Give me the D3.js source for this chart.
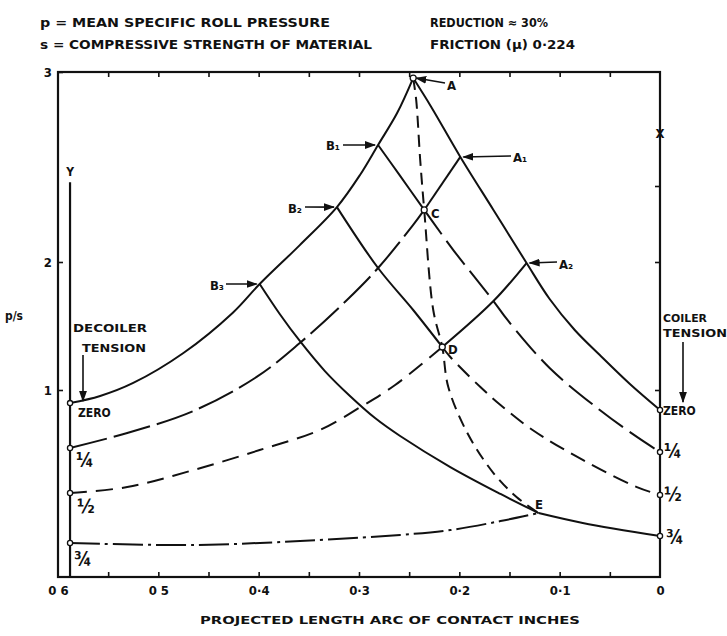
<!DOCTYPE html>
<html><head><meta charset="utf-8">
<script src="https://cdn.jsdelivr.net/npm/d3@7"></script>
<style>
body{margin:0;background:#fff;}
svg text{font-family:"DejaVu Sans Condensed","DejaVu Sans",sans-serif;font-weight:bold;fill:#111;}
</style></head><body>
<svg id="c" width="727" height="636"></svg>
<script>
// ---------- data ----------
const xTicks = [0.6, 0.5, 0.4, 0.3, 0.2, 0.1, 0];
const xTickLabels = ["0 6", "0 5", "0·4", "0·3", "0·2", "0·1", "0"];
const xMinorTicks = [0.55, 0.5, 0.45, 0.4, 0.35, 0.3, 0.25, 0.2, 0.15, 0.1, 0.05];
const yTicks = [1, 2, 3];
const yTickLabels = ["1", "2", "3"];
const tensionLabels = ["ZERO", "¼", "½", "¾"];

// entry (decoiler-tension) curves, [inches, p/s]
const entryZero = [[0.588,0.930],[0.558,0.968],[0.525,1.055],[0.475,1.289],[0.426,1.602],[0.399,1.828],[0.359,2.089],[0.322,2.289],[0.299,2.458],[0.281,2.616],[0.262,2.784],[0.246,2.968]];
const entryQuarterDashed = [[0.588,0.690],[0.531,0.770],[0.465,0.888],[0.402,1.102],[0.359,1.367],[0.312,1.703],[0.281,1.953],[0.246,2.195],[0.235,2.274]];
const entryQuarterSolid = [[0.235,2.274],[0.199,2.553]];
const entryHalfDashed = [[0.588,0.449],[0.531,0.481],[0.465,0.572],[0.399,0.679],[0.339,0.786],[0.300,0.904],[0.264,1.039],[0.217,1.336]];
const entryHalfSolid = [[0.217,1.336],[0.166,1.695],[0.133,1.992]];
const entryThreeQuarter = [[0.588,0.182],[0.465,0.171],[0.339,0.198],[0.259,0.225],[0.209,0.251],[0.159,0.299],[0.121,0.342]];

// exit (coiler-tension) curves
const exitA = [[0.246,2.968],[0.228,2.816],[0.199,2.553],[0.166,2.274],[0.133,1.992],[0.110,1.711],[0.085,1.469],[0.060,1.273],[0.030,1.047],[0,0.893]];
const exitB1Solid = [[0.281,2.616],[0.259,2.453],[0.235,2.274]];
const exitB1Dashed = [[0.235,2.274],[0.206,2.063],[0.166,1.695],[0.152,1.547],[0.110,1.172],[0.060,0.893],[0.023,0.749],[0,0.668]];
const exitB2Solid = [[0.322,2.289],[0.281,1.953],[0.246,1.625],[0.217,1.336]];
const exitB2Dashed = [[0.217,1.336],[0.209,1.258],[0.179,1.023],[0.159,0.920],[0.127,0.786],[0.077,0.626],[0.023,0.481],[0,0.439]];
const exitB3 = [[0.399,1.828],[0.379,1.594],[0.359,1.383],[0.334,1.148],[0.309,0.968],[0.284,0.850],[0.259,0.754],[0.209,0.588],[0.159,0.444],[0.121,0.342]];
const exitE = [[0.121,0.342],[0.077,0.289],[0,0.219]];

// locus of neutral points A-C-D-E
const neutralLocus = [[0.246,2.968],[0.243,2.853],[0.239,2.537],[0.235,2.274],[0.226,1.625],[0.217,1.336],[0.211,1.023],[0.192,0.770],[0.166,0.556],[0.143,0.428],[0.121,0.342]];

// named points
const pointNames = ["A","B₁","B₂","B₃","A₁","A₂","C","D","E"];
const pointX = [0.246,0.281,0.322,0.399,0.199,0.133,0.235,0.217,0.121];
const pointY = [2.968,2.616,2.289,1.828,2.553,1.992,2.274,1.336,0.342];

// tension end values
const entryStartX = 0.588;
const entryStartY = [0.930, 0.690, 0.449, 0.182];
const exitEndX = 0;
const exitEndY = [0.893, 0.668, 0.439, 0.219];
const yLineTop = 2.42;
const xMarkY = 2.68;

// ---------- drawing ----------
const svg = d3.select("#c");
const x = d3.scaleLinear().domain([0.6, 0]).range([58, 660]);
const y = d3.scaleLinear().domain([0, 1, 2, 3]).range([577, 390, 262, 72]);
const ink = "#111";

svg.append("defs").append("marker")
  .attr("id","arr").attr("viewBox","0 0 10 10").attr("refX",9).attr("refY",5)
  .attr("markerWidth",7).attr("markerHeight",7).attr("orient","auto")
  .append("path").attr("d","M0,1.5L10,5L0,8.5Z").attr("fill",ink);

// header
const hdr = [
  {t:"p = MEAN SPECIFIC ROLL PRESSURE", x:40, y:27, w:290},
  {t:"s = COMPRESSIVE STRENGTH OF MATERIAL", x:40, y:49, w:332},
  {t:"REDUCTION ≈ 30%", x:430, y:27, w:118},
  {t:"FRICTION (μ) 0·224", x:430, y:49, w:145}
];
svg.selectAll("text.hdr").data(hdr).join("text").attr("class","hdr")
  .attr("x",d=>d.x).attr("y",d=>d.y).attr("font-size",12)
  .attr("textLength",d=>d.w).attr("lengthAdjust","spacingAndGlyphs").text(d=>d.t);

// frame
svg.append("rect").attr("x",x(0.6)).attr("y",y(3)).attr("width",x(0)-x(0.6)).attr("height",y(0)-y(3))
  .attr("fill","none").attr("stroke",ink).attr("stroke-width",2.2);

// axes
function clean(g){ g.select(".domain").remove(); g.selectAll("line").attr("stroke",ink).attr("stroke-width",1.6); g.selectAll("text").attr("fill",ink).attr("font-size",13).attr("font-family","DejaVu Sans Condensed, DejaVu Sans, sans-serif").attr("font-weight","bold"); }
svg.append("g").attr("transform",`translate(0,${y(0)})`)
  .call(d3.axisBottom(x).tickValues(xMinorTicks).tickSize(-5).tickFormat("")).call(clean);
svg.append("g").attr("transform",`translate(0,${y(0)})`)
  .call(d3.axisBottom(x).tickValues(xTicks).tickSize(0).tickPadding(9).tickFormat((d,i)=>xTickLabels[i])).call(clean);
svg.append("g").attr("transform",`translate(0,${y(3)})`)
  .call(d3.axisTop(x).tickValues(xMinorTicks).tickSize(-5).tickFormat("")).call(clean);
svg.append("g").attr("transform",`translate(${x(0.6)},0)`)
  .call(d3.axisLeft(y).tickValues(yTicks).tickSize(-5).tickPadding(6).tickFormat((d,i)=>yTickLabels[i])).call(clean);
svg.append("g").attr("transform",`translate(${x(0)},0)`)
  .call(d3.axisRight(y).tickValues([1,2,2.4]).tickSize(-5).tickFormat("")).call(clean);

// axis titles
svg.append("text").attr("x",390).attr("y",624).attr("text-anchor","middle").attr("font-size",11)
  .attr("textLength",380).attr("lengthAdjust","spacingAndGlyphs").text("PROJECTED LENGTH ARC OF CONTACT INCHES");
svg.append("text").attr("x",14).attr("y",320).attr("text-anchor","middle").attr("font-size",12)
  .attr("textLength",18).attr("lengthAdjust","spacingAndGlyphs").text("p/s");

// Y line and X mark
svg.append("line").attr("x1",x(entryStartX)).attr("x2",x(entryStartX)).attr("y1",y(yLineTop)).attr("y2",y(0))
  .attr("stroke",ink).attr("stroke-width",2.2);
svg.append("text").attr("x",x(entryStartX)).attr("y",y(yLineTop)-6).attr("text-anchor","middle").attr("font-size",12).text("Y");
svg.append("text").attr("x",x(0)).attr("y",y(xMarkY)+5).attr("text-anchor","middle").attr("font-size",13).text("X");

// curves
const line = d3.line().x(d=>x(d[0])).y(d=>y(d[1])).curve(d3.curveCatmullRom.alpha(0.5));
const curves = [
  {d:entryZero, dash:null},
  {d:entryQuarterDashed, dash:"38,7"},
  {d:entryQuarterSolid, dash:null},
  {d:entryHalfDashed, dash:"17,9"},
  {d:entryHalfSolid, dash:null},
  {d:entryThreeQuarter, dash:"30,5,3,5"},
  {d:exitA, dash:null},
  {d:exitB1Solid, dash:null},
  {d:exitB1Dashed, dash:"30,8"},
  {d:exitB2Solid, dash:null},
  {d:exitB2Dashed, dash:"16,8"},
  {d:exitB3, dash:null},
  {d:exitE, dash:null},
  {d:neutralLocus, dash:"12,7"}
];
svg.selectAll("path.curve").data(curves).join("path").attr("class","curve")
  .attr("d",c=>line(c.d)).attr("fill","none").attr("stroke",ink).attr("stroke-width",2)
  .attr("stroke-dasharray",c=>c.dash);

// end circles
svg.selectAll("circle.ls").data(entryStartY).join("circle").attr("class","ls")
  .attr("cx",x(entryStartX)).attr("cy",d=>y(d)).attr("r",2.6).attr("fill","#fff").attr("stroke",ink).attr("stroke-width",1.3);
svg.selectAll("circle.rs").data(exitEndY).join("circle").attr("class","rs")
  .attr("cx",x(exitEndX)).attr("cy",d=>y(d)).attr("r",2.6).attr("fill","#fff").attr("stroke",ink).attr("stroke-width",1.3);

// tension labels
const leftOff = [{dx:8,dy:14,fs:12},{dx:6,dy:19,fs:19},{dx:7,dy:20,fs:19},{dx:4,dy:23,fs:19}];
svg.selectAll("text.lt").data(tensionLabels).join("text").attr("class","lt")
  .attr("x",(d,i)=>x(entryStartX)+leftOff[i].dx).attr("y",(d,i)=>y(entryStartY[i])+leftOff[i].dy)
  .attr("font-size",(d,i)=>leftOff[i].fs).text(d=>d);
const rightOff = [{dx:3,dy:5,fs:12},{dx:4,dy:6,fs:19},{dx:4,dy:6,fs:19},{dx:6,dy:8,fs:19}];
svg.selectAll("text.rt").data(tensionLabels).join("text").attr("class","rt")
  .attr("x",(d,i)=>x(exitEndX)+rightOff[i].dx).attr("y",(d,i)=>y(exitEndY[i])+rightOff[i].dy)
  .attr("font-size",(d,i)=>rightOff[i].fs).text(d=>d);

// decoiler / coiler tension notes
svg.append("text").attr("x",73).attr("y",332).attr("font-size",11).attr("textLength",74).attr("lengthAdjust","spacingAndGlyphs").text("DECOILER");
svg.append("text").attr("x",82).attr("y",352).attr("font-size",11).attr("textLength",64).attr("lengthAdjust","spacingAndGlyphs").text("TENSION");
svg.append("line").attr("x1",83).attr("x2",83).attr("y1",355).attr("y2",y(entryStartY[0])-2)
  .attr("stroke",ink).attr("stroke-width",1.6).attr("marker-end","url(#arr)");
svg.append("text").attr("x",663).attr("y",322).attr("font-size",11).attr("textLength",44).attr("lengthAdjust","spacingAndGlyphs").text("COILER");
svg.append("text").attr("x",663).attr("y",337).attr("font-size",11).attr("textLength",64).attr("lengthAdjust","spacingAndGlyphs").text("TENSION");
svg.append("line").attr("x1",683).attr("x2",683).attr("y1",342).attr("y2",y(exitEndY[0])-8)
  .attr("stroke",ink).attr("stroke-width",1.6).attr("marker-end","url(#arr)");

// point labels with leaders
const lab = [
  {lx:447, ly:90, anchor:"start", lead:[445,83]},
  {lx:340, ly:150, anchor:"end", lead:[343,145]},
  {lx:302, ly:213, anchor:"end", lead:[305,207]},
  {lx:224, ly:290, anchor:"end", lead:[226,284]},
  {lx:513, ly:162, anchor:"start", lead:[511,156]},
  {lx:559, ly:269, anchor:"start", lead:[557,262]},
  {lx:431, ly:218, anchor:"start", lead:null},
  {lx:448, ly:354, anchor:"start", lead:null},
  {lx:539, ly:509, anchor:"middle", lead:null}
];
pointNames.forEach((n,i)=>{
  const px = x(pointX[i]), py = y(pointY[i]), L = lab[i];
  if (L.lead) {
    svg.append("line").attr("x1",L.lead[0]).attr("y1",L.lead[1]).attr("x2",px+(L.lead[0]>px?3:-3)).attr("y2",py)
      .attr("stroke",ink).attr("stroke-width",1.6).attr("marker-end","url(#arr)");
  } else if (n !== "E") {
    svg.append("circle").attr("cx",px).attr("cy",py).attr("r",3).attr("fill","#fff").attr("stroke",ink).attr("stroke-width",1.3);
  }
  if (n === "A") svg.append("circle").attr("cx",px).attr("cy",py).attr("r",3).attr("fill","#fff").attr("stroke",ink).attr("stroke-width",1.3);
  svg.append("text").attr("x",L.lx).attr("y",L.ly).attr("text-anchor",L.anchor).attr("font-size",13).text(n);
});
</script>
</body></html>
